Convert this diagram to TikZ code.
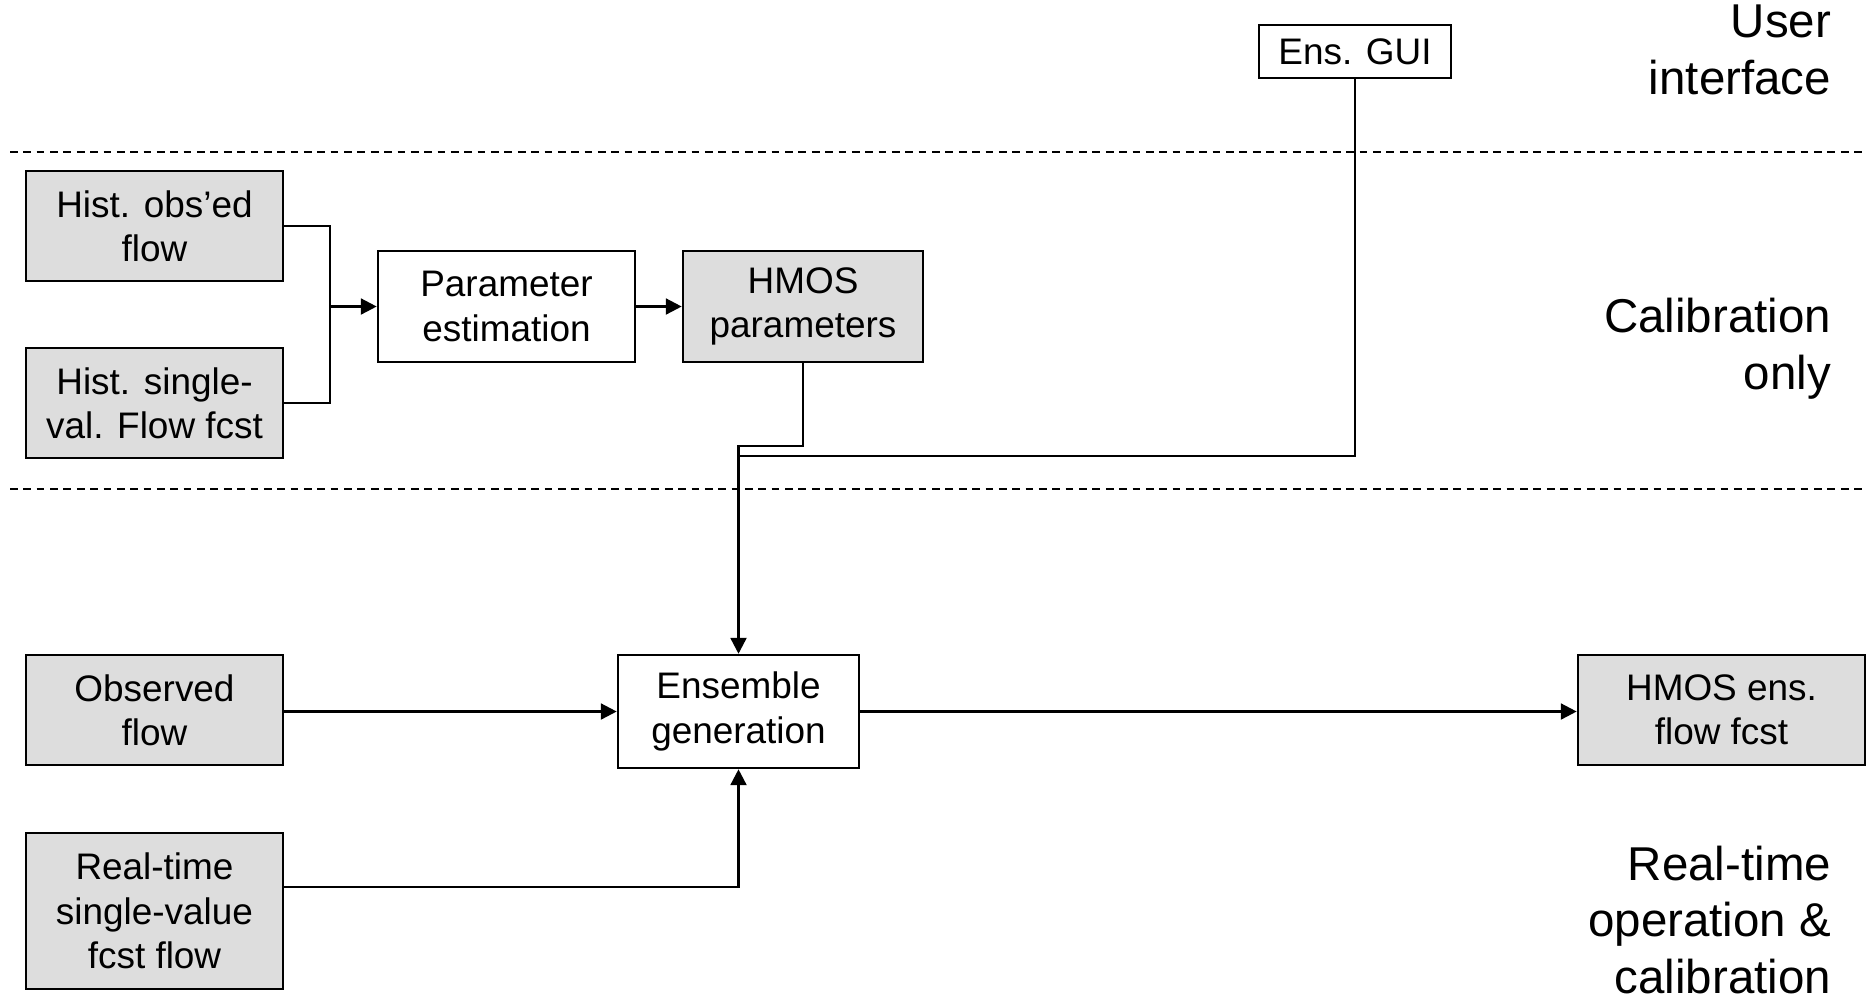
\documentclass[tikz,border=0pt]{standalone}
\usepackage{fontspec}
\setmainfont{Liberation Sans}
\usepackage{tikz}
\usetikzlibrary{arrows.meta, positioning, calc}
\definecolor{colData}{RGB}{221, 221, 221}

\begin{document}
\begin{tikzpicture}[x=0.01cm, y=-0.01cm, line width=0.7pt,
    every node/.style={font=\fontsize{10.5}{12.6}\selectfont, align=center},
    blk/.style={draw, inner sep=0pt},
    datablk/.style={blk, fill=colData},
    zone/.style={anchor=east, align=right, font=\fontsize{13.5}{16.2}\selectfont},
    arr/.style={-{Triangle[length=4.5pt, width=4.5pt]}},
    sep/.style={dashed, dash pattern=on 2.2pt off 1.6pt, line width=0.6pt}]
    \useasboundingbox (0,0) rectangle (1875,999);

    % Trennlinien
    \draw[sep] (10,152) -- (1866,152);
    \draw[sep] (10,489) -- (1866,489);

    % Bereiche
    \node[zone] (zUI) at (1844,50) {User\\interface};
    \node[zone] (zCal) at (1844,349) {Calibration\\only};
    \node[zone] (zRT) at (1844,920) {Real-time\\operation \&\\calibration};

    % Boxen
    \node[blk, minimum width=1.92cm, minimum height=0.53cm] (gui) at (1355,51.5) {Ens. GUI};
    \node[datablk, minimum width=2.57cm, minimum height=1.10cm] (hobs) at (154.5,226) {Hist. obs'ed\\flow};
    \node[datablk, minimum width=2.57cm, minimum height=1.10cm] (hsv) at (154.5,403) {Hist. single-\\val. Flow fcst};
    \node[blk, minimum width=2.57cm, minimum height=1.11cm] (param) at (506.5,306.5) {Parameter\\estimation};
    \node[datablk, minimum width=2.40cm, minimum height=1.11cm] (hmos) at (803,306.5) {HMOS\\parameters};
    \node[blk, minimum width=2.41cm, minimum height=1.13cm] (ensgen) at (738.5,711.5) {Ensemble\\generation};
    \node[datablk, minimum width=2.57cm, minimum height=1.10cm] (obs) at (154.5,710) {Observed\\flow};
    \node[datablk, minimum width=2.87cm, minimum height=1.10cm] (hmosens) at (1721.5,710) {HMOS ens.\\flow fcst};
    \node[datablk, minimum width=2.57cm, minimum height=1.56cm] (rt) at (154.5,911) {Real-time\\single-value\\fcst flow};

    % Verbindungen
    \coordinate (join) at (330,306.5);
    \coordinate (mergeA) at (738.5,446);
    \coordinate (mergeB) at (738.5,456);
    \coordinate (rtout) at (283,887);
    \draw (hobs.east) -| (join) |- (hsv.east);
    \draw[arr] (join) -- (param.west);
    \draw[arr] (param.east) -- (hmos.west);
    \draw[arr] (hmos.south) |- (mergeA) -- (ensgen.north);
    \draw (gui.south) |- (mergeB);
    \draw[arr] (obs.east |- ensgen.west) -- (ensgen.west);
    \draw[arr] (ensgen.east) -- (hmosens.west |- ensgen.east);
    \draw[arr] (rtout) -| (ensgen.south);
\end{tikzpicture}
\end{document}
